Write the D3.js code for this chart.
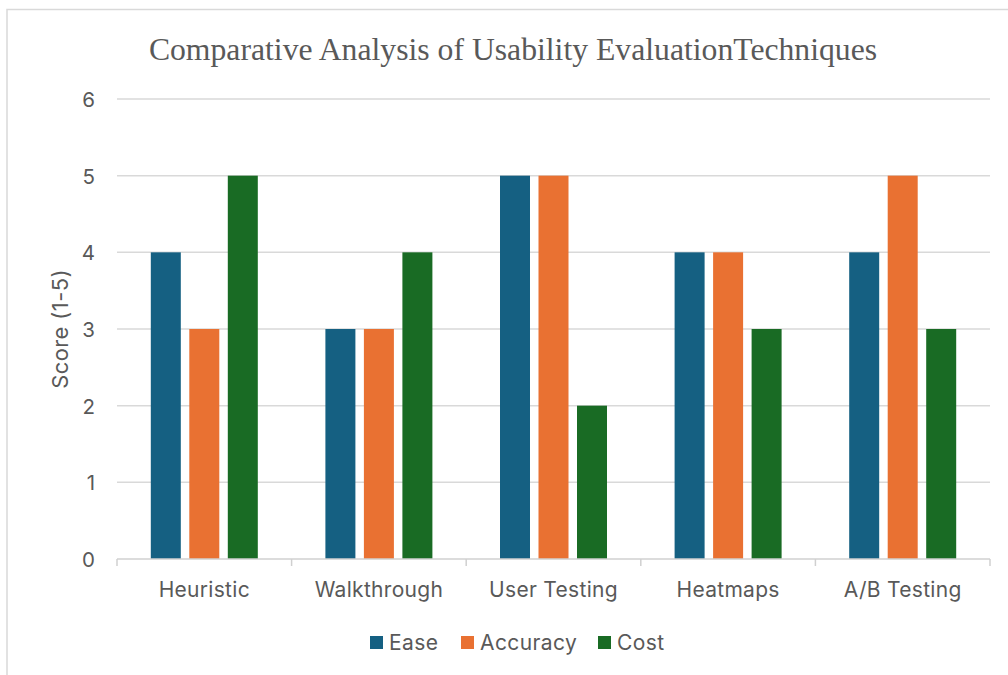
<!DOCTYPE html>
<html><head><meta charset="utf-8">
<script src="https://cdn.jsdelivr.net/npm/d3@7"></script>
<style>html,body{margin:0;padding:0;background:#fff;}svg{display:block;}</style>
</head><body>
<svg id="c" width="1008" height="675"></svg>
<script>
const categories = ["Heuristic", "Walkthrough", "User Testing", "Heatmaps", "A/B Testing"];
const seriesNames = ["Ease", "Accuracy", "Cost"];
const ease = [4, 3, 5, 4, 4];
const accuracy = [3, 3, 5, 4, 5];
const cost = [5, 4, 2, 3, 3];
const yTicks = [0, 1, 2, 3, 4, 5, 6];
const colors = ["#156082", "#E97132", "#196B24"];

const svg = d3.select("#c");
const textColor = "#595959";
const sans = "Inter, 'Open Sans', 'Liberation Sans', sans-serif";

// chart frame
svg.append("rect").attr("x", 7).attr("y", 9.5).attr("width", 1010).attr("height", 680)
  .attr("fill", "none").attr("stroke", "#d9d9d9").attr("stroke-width", 1.5);

const pLeft = 117, pRight = 990, pTop = 99, pBottom = 559;
const x = d3.scaleBand().domain(categories).range([pLeft, pRight]).paddingInner(0).paddingOuter(0);
const y = d3.scaleLinear().domain([0, 6]).range([pBottom, pTop]);
const barW = 30, gap = 8.5;
const groupW = barW * 3 + gap * 2;

// gridlines
svg.append("g").selectAll("line").data(yTicks.filter(d => d > 0)).join("line")
  .attr("x1", pLeft).attr("x2", pRight).attr("y1", d => y(d)).attr("y2", d => y(d))
  .attr("stroke", "#d9d9d9").attr("stroke-width", 1.5);

// y axis labels
const yAxis = d3.axisLeft(y).tickValues(yTicks).tickSize(0).tickPadding(0).tickFormat(d3.format("d"));
const gy = svg.append("g").attr("transform", `translate(${pLeft - 22},0)`).call(yAxis);
gy.select(".domain").remove();
gy.selectAll("text").attr("font-family", sans).attr("font-size", 20.5).attr("fill", textColor).attr("dy", "0.36em");

// bars
const data = [ease, accuracy, cost];
const g = svg.append("g");
categories.forEach((c, i) => {
  seriesNames.forEach((s, j) => {
    const v = data[j][i];
    const x0 = x(c) + (x.bandwidth() - groupW) / 2 + j * (barW + gap);
    g.append("rect").attr("x", x0).attr("y", y(v)).attr("width", barW).attr("height", y(0) - y(v))
      .attr("fill", colors[j]);
  });
});

// x axis
const xAxis = d3.axisBottom(x).tickSize(0).tickPadding(0);
const gx = svg.append("g").attr("transform", `translate(0,${pBottom})`).call(xAxis);
gx.select(".domain").remove();
gx.selectAll("text").attr("font-family", sans).attr("font-size", 21).attr("fill", textColor)
  .attr("dy", null).attr("y", 38).attr("letter-spacing", 0.3);
svg.append("line").attr("x1", pLeft).attr("x2", pRight).attr("y1", pBottom).attr("y2", pBottom)
  .attr("stroke", "#d0d0d0").attr("stroke-width", 1.5);
const bounds = categories.map(c => x(c)).concat([pRight]);
svg.append("g").selectAll("line").data(bounds).join("line")
  .attr("x1", d => d).attr("x2", d => d).attr("y1", pBottom).attr("y2", pBottom + 7)
  .attr("stroke", "#d0d0d0").attr("stroke-width", 1.5);

// y title
svg.append("text").attr("transform", `translate(68,${(pTop + pBottom) / 2}) rotate(-90)`)
  .attr("text-anchor", "middle").attr("font-family", sans).attr("font-size", 22).attr("fill", textColor)
  .attr("letter-spacing", 0.4).text("Score (1-5)");

// title
svg.append("text").attr("x", 513).attr("y", 60).attr("text-anchor", "middle")
  .attr("font-family", "'Liberation Serif', 'Times New Roman', serif").attr("font-size", 31.7)
  .attr("fill", textColor).text("Comparative Analysis of Usability EvaluationTechniques");

// legend
const legendX = [370, 461, 598];
const lg = svg.append("g");
seriesNames.forEach((s, j) => {
  lg.append("rect").attr("x", legendX[j]).attr("y", 636).attr("width", 13).attr("height", 13).attr("fill", colors[j]);
  lg.append("text").attr("x", legendX[j] + 19).attr("y", 650).attr("font-family", sans).attr("font-size", 21)
    .attr("letter-spacing", 0.4).attr("fill", textColor).text(s);
});
</script>
</body></html>
